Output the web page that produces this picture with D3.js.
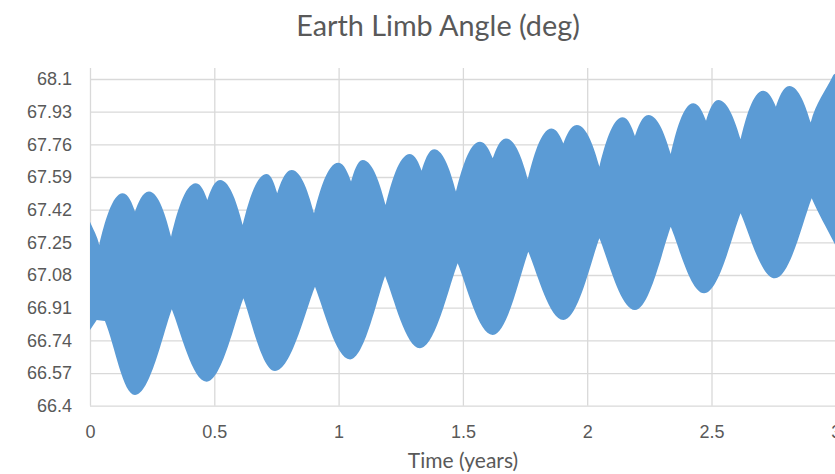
<!DOCTYPE html>
<html>
<head>
<meta charset="utf-8">
<script src="https://cdn.jsdelivr.net/npm/d3@7"></script>
<style>
  body { margin: 0; background: #fff; }
  svg { display: block; font-family: Lato, "Open Sans", sans-serif; }
</style>
</head>
<body>
<svg id="chart" width="835" height="474"></svg>
<script>
// upper envelope of the band (humps and dips)
var upperTime = [0, 0.037, 0.132, 0.181, 0.237, 0.326, 0.426, 0.472, 0.523, 0.614, 0.711, 0.753, 0.811, 0.901,
    0.999, 1.05, 1.097, 1.189, 1.287, 1.334, 1.384, 1.472, 1.569, 1.62, 1.673, 1.761, 1.857, 1.904, 1.958,
    2.049, 2.143, 2.192, 2.246, 2.336, 2.427, 2.478, 2.527, 2.617, 2.708, 2.759, 2.813, 2.899, 2.99, 3.0];
var upperAngle = [67.357, 67.236, 67.505, 67.41, 67.514, 67.279, 67.557, 67.47, 67.574, 67.34, 67.606, 67.505,
    67.626, 67.401, 67.664, 67.566, 67.679, 67.444, 67.71, 67.623, 67.734, 67.514, 67.774, 67.687, 67.791,
    67.58, 67.843, 67.765, 67.861, 67.644, 67.901, 67.803, 67.913, 67.71, 67.974, 67.883, 67.991, 67.786,
    68.039, 67.956, 68.064, 67.873, 68.121, 68.13];

// lower envelope of the band (troughs and peaks)
var lowerTime = [0, 0.027, 0.06, 0.181, 0.329, 0.469, 0.617, 0.744, 0.905, 1.046, 1.187, 1.327, 1.479, 1.62,
    1.763, 1.904, 2.049, 2.192, 2.336, 2.47, 2.617, 2.755, 2.903, 3.0];
var lowerAngle = [66.794, 66.846, 66.841, 66.456, 66.902, 66.525, 66.959, 66.581, 67.019, 66.641, 67.075,
    66.699, 67.141, 66.768, 67.201, 66.846, 67.271, 66.898, 67.331, 66.985, 67.401, 67.063, 67.479, 67.231];

var xTicks = [0, 0.5, 1, 1.5, 2, 2.5, 3];
var xLabels = ["0", "0.5", "1", "1.5", "2", "2.5", "3"];
var yTicks = [66.4, 66.57, 66.74, 66.91, 67.08, 67.25, 67.42, 67.59, 67.76, 67.93, 68.1];
var yLabels = ["66.4", "66.57", "66.74", "66.91", "67.08", "67.25", "67.42", "67.59", "67.76", "67.93", "68.1"];

var svg = d3.select("#chart");
var plotLeft = 90, plotRight = 835.8, plotTop = 68, plotBottom = 405.7;
var textColor = "#595959", gridColor = "#d9d9d9";

var x = d3.scaleLinear().domain([0, 3]).range([plotLeft, plotRight]);
var y = d3.scaleLinear().domain([66.4, 68.1]).range([plotBottom, 79]);

// title
svg.append("text")
    .attr("x", 438).attr("y", 36)
    .attr("text-anchor", "middle")
    .attr("fill", textColor)
    .style("font-size", "28.8px")
    .text("Earth Limb Angle (deg)");

// horizontal gridlines + y labels
var yAxis = svg.append("g")
    .attr("transform", "translate(" + plotLeft + ",0)")
    .call(d3.axisLeft(y).tickValues(yTicks)
        .tickFormat(function(d, i) { return yLabels[i]; })
        .tickSize(-(835 - plotLeft)).tickPadding(18));
yAxis.select(".domain").remove();
yAxis.selectAll("line").attr("stroke", gridColor).attr("stroke-width", 1.3);
yAxis.selectAll("text").attr("fill", textColor).style("font-size", "18px");

// vertical gridlines + x labels
var xAxis = svg.append("g")
    .attr("transform", "translate(0," + plotBottom + ")")
    .call(d3.axisBottom(x).tickValues(xTicks)
        .tickFormat(function(d, i) { return xLabels[i]; })
        .tickSize(-(plotBottom - plotTop)).tickPadding(20));
xAxis.select(".domain").remove();
xAxis.selectAll("line").attr("stroke", gridColor).attr("stroke-width", 1.3);
xAxis.selectAll("text").attr("fill", textColor).style("font-size", "18px");

// x axis title
svg.append("text")
    .attr("x", 463).attr("y", 468)
    .attr("text-anchor", "middle")
    .attr("fill", textColor)
    .style("font-size", "21px")
    .text("Time (years)");

// envelope drawing: rounded at one kind of extreme, cusp at the other
// roundAtMax = true -> humps rounded, dips sharp (upper edge)
function envelope(times, vals, roundAtMax, sharpK, roundK, p, first) {
    var n = times.length;
    function kind(i) {
        if (i === 0 || i === n - 1) return "mid";
        var isMax = vals[i] >= vals[i - 1] && vals[i] >= vals[i + 1];
        var isMin = vals[i] <= vals[i - 1] && vals[i] <= vals[i + 1];
        if (isMax) return roundAtMax ? "round" : "sharp";
        if (isMin) return roundAtMax ? "sharp" : "round";
        return "mid";
    }
    function ctrl(i, j) {
        // control point leaving point i towards point j
        var xi = x(times[i]), yi = y(vals[i]), dx = x(times[j]) - xi, dy = y(vals[j]) - yi;
        var k = kind(i);
        if (k === "round") return [xi + roundK * dx, yi];
        if (k === "sharp") return [xi + sharpK[0] * dx, yi + sharpK[1] * dy];
        return [xi + dx / 3, yi + dy / 3];
    }
    if (first) p.moveTo(x(times[0]), y(vals[0]));
    else p.lineTo(x(times[0]), y(vals[0]));
    for (var i = 0; i < n - 1; i++) {
        var c1 = ctrl(i, i + 1), c2 = ctrl(i + 1, i);
        p.bezierCurveTo(c1[0], c1[1], c2[0], c2[1], x(times[i + 1]), y(vals[i + 1]));
    }
}

var band = d3.path();
envelope(upperTime, upperAngle, true, [0.22, 0.42], 0.45, band, true);
envelope(lowerTime.slice().reverse(), lowerAngle.slice().reverse(), false, [0.25, 0.3], 0.4, band, false);
band.closePath();

svg.append("clipPath").attr("id", "plotClip")
    .append("rect")
    .attr("x", plotLeft).attr("y", plotTop)
    .attr("width", 835 - plotLeft).attr("height", plotBottom - plotTop);

svg.append("path")
    .attr("d", band.toString())
    .attr("fill", "#5b9bd5")
    .attr("clip-path", "url(#plotClip)");
</script>
</body>
</html>
